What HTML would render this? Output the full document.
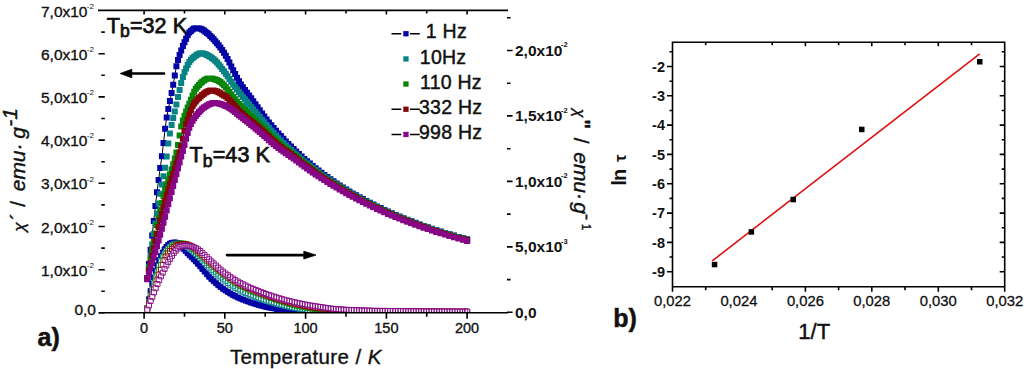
<!DOCTYPE html><html><head><meta charset="utf-8"><style>html,body{margin:0;padding:0;background:#fff;overflow:hidden}svg{display:block}text{font-family:"Liberation Sans", sans-serif}</style></head><body>
<svg width="1024" height="369" viewBox="0 0 1024 369">
<rect width="1024" height="369" fill="#fff"/>
<defs><clipPath id="pa"><rect x="98.5" y="10.4" width="409" height="402.4"/></clipPath><clipPath id="pb"><rect x="98.5" y="10.4" width="409" height="302.4"/></clipPath></defs>
<g clip-path="url(#pa)">
<polyline points="147.3,278.3 148.9,264.1 150.6,249.8 152.2,235.5 153.8,220.9 155.4,206.0 157.0,192.3 158.6,179.9 160.2,167.9 161.9,156.3 163.5,143.1 165.1,128.8 166.7,117.6 168.3,109.0 169.9,101.1 171.6,93.0 173.2,84.8 174.8,75.4 176.4,66.2 178.0,60.1 179.6,55.1 181.2,50.4 182.9,46.1 184.5,42.2 186.1,38.7 187.7,35.3 189.3,32.6 190.9,30.9 192.6,29.4 194.2,28.4 195.8,28.2 197.4,28.3 199.0,28.5 200.6,28.7 202.2,29.4 203.9,30.5 205.5,31.7 207.1,32.9 208.7,34.3 210.3,35.9 211.9,37.6 213.6,39.3 215.3,41.2 217.0,43.2 218.7,45.3 220.4,47.6 222.2,50.0 224.0,52.7 225.8,55.7 227.6,59.1 229.4,62.6 231.3,66.4 233.2,70.2 235.1,74.0 237.0,77.8 239.0,81.2 240.9,84.4 242.9,87.3 245.0,90.0 247.0,92.7 249.1,95.4 251.2,98.2 253.3,101.2 255.5,104.2 257.6,107.2 259.8,110.3 262.1,113.4 264.3,116.5 266.6,119.5 268.9,122.4 271.3,125.2 273.6,128.0 276.0,130.7 278.4,133.4 280.9,136.1 283.4,138.8 285.9,141.4 288.4,144.0 291.0,146.5 293.6,149.1 296.2,151.6 298.9,154.1 301.6,156.5 304.3,158.9 307.1,161.3 309.9,163.6 312.7,165.9 315.6,168.2 318.5,170.5 321.4,172.7 324.4,174.9 327.4,177.1 330.4,179.2 333.5,181.3 336.6,183.4 339.7,185.4 342.9,187.5 346.2,189.5 349.4,191.5 352.7,193.4 356.1,195.3 359.5,197.2 362.9,199.1 366.3,201.0 369.9,202.8 373.4,204.6 377.0,206.4 380.6,208.1 384.3,209.9 388.0,211.6 391.8,213.3 395.6,214.9 399.5,216.5 403.4,218.2 407.3,219.7 411.3,221.3 415.4,222.8 419.5,224.4 423.6,225.9 427.8,227.3 432.0,228.8 436.3,230.2 440.7,231.6 445.1,232.9 449.5,234.3 454.0,235.6 458.6,236.9 463.2,238.2 467.1,239.3" fill="none" stroke="#000" stroke-width="1"/>
<path d="M144.3 275.3h6.0v6.0h-6.0zM145.9 261.1h6.0v6.0h-6.0zM147.6 246.8h6.0v6.0h-6.0zM149.2 232.5h6.0v6.0h-6.0zM150.8 217.9h6.0v6.0h-6.0zM152.4 203.0h6.0v6.0h-6.0zM154.0 189.3h6.0v6.0h-6.0zM155.6 176.9h6.0v6.0h-6.0zM157.2 164.9h6.0v6.0h-6.0zM158.9 153.3h6.0v6.0h-6.0zM160.5 140.1h6.0v6.0h-6.0zM162.1 125.8h6.0v6.0h-6.0zM163.7 114.6h6.0v6.0h-6.0zM165.3 106.0h6.0v6.0h-6.0zM166.9 98.1h6.0v6.0h-6.0zM168.6 90.0h6.0v6.0h-6.0zM170.2 81.8h6.0v6.0h-6.0zM171.8 72.4h6.0v6.0h-6.0zM173.4 63.2h6.0v6.0h-6.0zM175.0 57.1h6.0v6.0h-6.0zM176.6 52.1h6.0v6.0h-6.0zM178.2 47.4h6.0v6.0h-6.0zM179.9 43.1h6.0v6.0h-6.0zM181.5 39.2h6.0v6.0h-6.0zM183.1 35.7h6.0v6.0h-6.0zM184.7 32.3h6.0v6.0h-6.0zM186.3 29.6h6.0v6.0h-6.0zM187.9 27.9h6.0v6.0h-6.0zM189.6 26.4h6.0v6.0h-6.0zM191.2 25.4h6.0v6.0h-6.0zM192.8 25.2h6.0v6.0h-6.0zM194.4 25.3h6.0v6.0h-6.0zM196.0 25.5h6.0v6.0h-6.0zM197.6 25.7h6.0v6.0h-6.0zM199.2 26.4h6.0v6.0h-6.0zM200.9 27.5h6.0v6.0h-6.0zM202.5 28.7h6.0v6.0h-6.0zM204.1 29.9h6.0v6.0h-6.0zM205.7 31.3h6.0v6.0h-6.0zM207.3 32.9h6.0v6.0h-6.0zM208.9 34.6h6.0v6.0h-6.0zM210.6 36.3h6.0v6.0h-6.0zM212.3 38.2h6.0v6.0h-6.0zM214.0 40.2h6.0v6.0h-6.0zM215.7 42.3h6.0v6.0h-6.0zM217.4 44.6h6.0v6.0h-6.0zM219.2 47.0h6.0v6.0h-6.0zM221.0 49.7h6.0v6.0h-6.0zM222.8 52.7h6.0v6.0h-6.0zM224.6 56.1h6.0v6.0h-6.0zM226.4 59.6h6.0v6.0h-6.0zM228.3 63.4h6.0v6.0h-6.0zM230.2 67.2h6.0v6.0h-6.0zM232.1 71.0h6.0v6.0h-6.0zM234.0 74.8h6.0v6.0h-6.0zM236.0 78.2h6.0v6.0h-6.0zM237.9 81.4h6.0v6.0h-6.0zM239.9 84.3h6.0v6.0h-6.0zM242.0 87.0h6.0v6.0h-6.0zM244.0 89.7h6.0v6.0h-6.0zM246.1 92.4h6.0v6.0h-6.0zM248.2 95.2h6.0v6.0h-6.0zM250.3 98.2h6.0v6.0h-6.0zM252.5 101.2h6.0v6.0h-6.0zM254.6 104.2h6.0v6.0h-6.0zM256.8 107.3h6.0v6.0h-6.0zM259.1 110.4h6.0v6.0h-6.0zM261.3 113.5h6.0v6.0h-6.0zM263.6 116.5h6.0v6.0h-6.0zM265.9 119.4h6.0v6.0h-6.0zM268.3 122.2h6.0v6.0h-6.0zM270.6 125.0h6.0v6.0h-6.0zM273.0 127.7h6.0v6.0h-6.0zM275.4 130.4h6.0v6.0h-6.0zM277.9 133.1h6.0v6.0h-6.0zM280.4 135.8h6.0v6.0h-6.0zM282.9 138.4h6.0v6.0h-6.0zM285.4 141.0h6.0v6.0h-6.0zM288.0 143.5h6.0v6.0h-6.0zM290.6 146.1h6.0v6.0h-6.0zM293.2 148.6h6.0v6.0h-6.0zM295.9 151.1h6.0v6.0h-6.0zM298.6 153.5h6.0v6.0h-6.0zM301.3 155.9h6.0v6.0h-6.0zM304.1 158.3h6.0v6.0h-6.0zM306.9 160.6h6.0v6.0h-6.0zM309.7 162.9h6.0v6.0h-6.0zM312.6 165.2h6.0v6.0h-6.0zM315.5 167.5h6.0v6.0h-6.0zM318.4 169.7h6.0v6.0h-6.0zM321.4 171.9h6.0v6.0h-6.0zM324.4 174.1h6.0v6.0h-6.0zM327.4 176.2h6.0v6.0h-6.0zM330.5 178.3h6.0v6.0h-6.0zM333.6 180.4h6.0v6.0h-6.0zM336.7 182.4h6.0v6.0h-6.0zM339.9 184.5h6.0v6.0h-6.0zM343.2 186.5h6.0v6.0h-6.0zM346.4 188.5h6.0v6.0h-6.0zM349.7 190.4h6.0v6.0h-6.0zM353.1 192.3h6.0v6.0h-6.0zM356.5 194.2h6.0v6.0h-6.0zM359.9 196.1h6.0v6.0h-6.0zM363.3 198.0h6.0v6.0h-6.0zM366.9 199.8h6.0v6.0h-6.0zM370.4 201.6h6.0v6.0h-6.0zM374.0 203.4h6.0v6.0h-6.0zM377.6 205.1h6.0v6.0h-6.0zM381.3 206.9h6.0v6.0h-6.0zM385.0 208.6h6.0v6.0h-6.0zM388.8 210.3h6.0v6.0h-6.0zM392.6 211.9h6.0v6.0h-6.0zM396.5 213.5h6.0v6.0h-6.0zM400.4 215.2h6.0v6.0h-6.0zM404.3 216.7h6.0v6.0h-6.0zM408.3 218.3h6.0v6.0h-6.0zM412.4 219.8h6.0v6.0h-6.0zM416.5 221.4h6.0v6.0h-6.0zM420.6 222.9h6.0v6.0h-6.0zM424.8 224.3h6.0v6.0h-6.0zM429.0 225.8h6.0v6.0h-6.0zM433.3 227.2h6.0v6.0h-6.0zM437.7 228.6h6.0v6.0h-6.0zM442.1 229.9h6.0v6.0h-6.0zM446.5 231.3h6.0v6.0h-6.0zM451.0 232.6h6.0v6.0h-6.0zM455.6 233.9h6.0v6.0h-6.0zM460.2 235.2h6.0v6.0h-6.0zM464.1 236.3h6.0v6.0h-6.0z" fill="#0404a6"/>
<path d="M144.3 275.3h6.0v6.0h-6.0zM145.9 263.8h6.0v6.0h-6.0zM147.6 252.5h6.0v6.0h-6.0zM149.2 241.6h6.0v6.0h-6.0zM150.8 230.9h6.0v6.0h-6.0zM152.4 220.6h6.0v6.0h-6.0zM154.0 210.4h6.0v6.0h-6.0zM155.6 200.4h6.0v6.0h-6.0zM157.2 190.7h6.0v6.0h-6.0zM158.9 181.6h6.0v6.0h-6.0zM160.5 173.3h6.0v6.0h-6.0zM162.1 164.8h6.0v6.0h-6.0zM163.7 153.5h6.0v6.0h-6.0zM165.3 140.6h6.0v6.0h-6.0zM166.9 130.5h6.0v6.0h-6.0zM168.6 122.0h6.0v6.0h-6.0zM170.2 115.1h6.0v6.0h-6.0zM171.8 108.5h6.0v6.0h-6.0zM173.4 101.4h6.0v6.0h-6.0zM175.0 94.1h6.0v6.0h-6.0zM176.6 86.9h6.0v6.0h-6.0zM178.2 80.1h6.0v6.0h-6.0zM179.9 74.1h6.0v6.0h-6.0zM181.5 69.2h6.0v6.0h-6.0zM183.1 65.4h6.0v6.0h-6.0zM184.7 62.0h6.0v6.0h-6.0zM186.3 59.1h6.0v6.0h-6.0zM187.9 56.7h6.0v6.0h-6.0zM189.6 55.0h6.0v6.0h-6.0zM191.2 53.7h6.0v6.0h-6.0zM192.8 52.5h6.0v6.0h-6.0zM194.4 51.5h6.0v6.0h-6.0zM196.0 50.7h6.0v6.0h-6.0zM197.6 50.3h6.0v6.0h-6.0zM199.2 50.3h6.0v6.0h-6.0zM200.9 50.7h6.0v6.0h-6.0zM202.5 51.3h6.0v6.0h-6.0zM204.1 52.1h6.0v6.0h-6.0zM205.7 52.9h6.0v6.0h-6.0zM207.3 53.8h6.0v6.0h-6.0zM208.9 54.9h6.0v6.0h-6.0zM210.6 56.2h6.0v6.0h-6.0zM212.3 57.8h6.0v6.0h-6.0zM214.0 59.6h6.0v6.0h-6.0zM215.7 61.5h6.0v6.0h-6.0zM217.4 63.6h6.0v6.0h-6.0zM219.2 65.9h6.0v6.0h-6.0zM221.0 68.3h6.0v6.0h-6.0zM222.8 70.8h6.0v6.0h-6.0zM224.6 73.3h6.0v6.0h-6.0zM226.4 76.0h6.0v6.0h-6.0zM228.3 78.7h6.0v6.0h-6.0zM230.2 81.4h6.0v6.0h-6.0zM232.1 84.0h6.0v6.0h-6.0zM234.0 86.6h6.0v6.0h-6.0zM236.0 89.2h6.0v6.0h-6.0zM237.9 91.6h6.0v6.0h-6.0zM239.9 94.0h6.0v6.0h-6.0zM242.0 96.4h6.0v6.0h-6.0zM244.0 98.9h6.0v6.0h-6.0zM246.1 101.4h6.0v6.0h-6.0zM248.2 103.9h6.0v6.0h-6.0zM250.3 106.4h6.0v6.0h-6.0zM252.5 109.0h6.0v6.0h-6.0zM254.6 111.5h6.0v6.0h-6.0zM256.8 114.1h6.0v6.0h-6.0zM259.1 116.7h6.0v6.0h-6.0zM261.3 119.3h6.0v6.0h-6.0zM263.6 122.0h6.0v6.0h-6.0zM265.9 124.7h6.0v6.0h-6.0zM268.3 127.4h6.0v6.0h-6.0zM270.6 130.0h6.0v6.0h-6.0zM273.0 132.6h6.0v6.0h-6.0zM275.4 135.2h6.0v6.0h-6.0zM277.9 137.6h6.0v6.0h-6.0zM280.4 140.0h6.0v6.0h-6.0zM282.9 142.4h6.0v6.0h-6.0zM285.4 144.7h6.0v6.0h-6.0zM288.0 146.9h6.0v6.0h-6.0zM290.6 149.2h6.0v6.0h-6.0zM293.2 151.5h6.0v6.0h-6.0zM295.9 153.8h6.0v6.0h-6.0zM298.6 156.1h6.0v6.0h-6.0zM301.3 158.4h6.0v6.0h-6.0zM304.1 160.6h6.0v6.0h-6.0zM306.9 162.8h6.0v6.0h-6.0zM309.7 165.0h6.0v6.0h-6.0zM312.6 167.1h6.0v6.0h-6.0zM315.5 169.3h6.0v6.0h-6.0zM318.4 171.4h6.0v6.0h-6.0zM321.4 173.5h6.0v6.0h-6.0zM324.4 175.5h6.0v6.0h-6.0zM327.4 177.6h6.0v6.0h-6.0zM330.5 179.6h6.0v6.0h-6.0zM333.6 181.6h6.0v6.0h-6.0zM336.7 183.6h6.0v6.0h-6.0zM339.9 185.6h6.0v6.0h-6.0zM343.2 187.5h6.0v6.0h-6.0zM346.4 189.4h6.0v6.0h-6.0zM349.7 191.3h6.0v6.0h-6.0zM353.1 193.2h6.0v6.0h-6.0zM356.5 195.0h6.0v6.0h-6.0zM359.9 196.9h6.0v6.0h-6.0zM363.3 198.7h6.0v6.0h-6.0zM366.9 200.5h6.0v6.0h-6.0zM370.4 202.2h6.0v6.0h-6.0zM374.0 204.0h6.0v6.0h-6.0zM377.6 205.7h6.0v6.0h-6.0zM381.3 207.4h6.0v6.0h-6.0zM385.0 209.1h6.0v6.0h-6.0zM388.8 210.7h6.0v6.0h-6.0zM392.6 212.4h6.0v6.0h-6.0zM396.5 214.0h6.0v6.0h-6.0zM400.4 215.6h6.0v6.0h-6.0zM404.3 217.1h6.0v6.0h-6.0zM408.3 218.7h6.0v6.0h-6.0zM412.4 220.2h6.0v6.0h-6.0zM416.5 221.7h6.0v6.0h-6.0zM420.6 223.2h6.0v6.0h-6.0zM424.8 224.6h6.0v6.0h-6.0zM429.0 226.1h6.0v6.0h-6.0zM433.3 227.5h6.0v6.0h-6.0zM437.7 228.9h6.0v6.0h-6.0zM442.1 230.2h6.0v6.0h-6.0zM446.5 231.6h6.0v6.0h-6.0zM451.0 232.9h6.0v6.0h-6.0zM455.6 234.2h6.0v6.0h-6.0zM460.2 235.5h6.0v6.0h-6.0zM464.1 236.5h6.0v6.0h-6.0z" fill="#078383"/>
<path d="M144.3 275.3h6.0v6.0h-6.0zM145.9 265.8h6.0v6.0h-6.0zM147.6 256.6h6.0v6.0h-6.0zM149.2 247.6h6.0v6.0h-6.0zM150.8 238.9h6.0v6.0h-6.0zM152.4 230.5h6.0v6.0h-6.0zM154.0 222.3h6.0v6.0h-6.0zM155.6 214.6h6.0v6.0h-6.0zM157.2 207.1h6.0v6.0h-6.0zM158.9 200.0h6.0v6.0h-6.0zM160.5 193.2h6.0v6.0h-6.0zM162.1 187.1h6.0v6.0h-6.0zM163.7 181.6h6.0v6.0h-6.0zM165.3 176.4h6.0v6.0h-6.0zM166.9 171.4h6.0v6.0h-6.0zM168.6 166.5h6.0v6.0h-6.0zM170.2 161.3h6.0v6.0h-6.0zM171.8 155.6h6.0v6.0h-6.0zM173.4 149.4h6.0v6.0h-6.0zM175.0 142.1h6.0v6.0h-6.0zM176.6 132.6h6.0v6.0h-6.0zM178.2 123.6h6.0v6.0h-6.0zM179.9 117.6h6.0v6.0h-6.0zM181.5 112.7h6.0v6.0h-6.0zM183.1 108.4h6.0v6.0h-6.0zM184.7 104.5h6.0v6.0h-6.0zM186.3 100.7h6.0v6.0h-6.0zM187.9 96.7h6.0v6.0h-6.0zM189.6 92.6h6.0v6.0h-6.0zM191.2 88.8h6.0v6.0h-6.0zM192.8 85.7h6.0v6.0h-6.0zM194.4 83.7h6.0v6.0h-6.0zM196.0 81.9h6.0v6.0h-6.0zM197.6 80.2h6.0v6.0h-6.0zM199.2 78.7h6.0v6.0h-6.0zM200.9 77.5h6.0v6.0h-6.0zM202.5 76.4h6.0v6.0h-6.0zM204.1 75.7h6.0v6.0h-6.0zM205.7 75.4h6.0v6.0h-6.0zM207.3 75.4h6.0v6.0h-6.0zM208.9 75.6h6.0v6.0h-6.0zM210.6 76.0h6.0v6.0h-6.0zM212.3 76.5h6.0v6.0h-6.0zM214.0 77.1h6.0v6.0h-6.0zM215.7 77.9h6.0v6.0h-6.0zM217.4 79.1h6.0v6.0h-6.0zM219.2 80.6h6.0v6.0h-6.0zM221.0 82.3h6.0v6.0h-6.0zM222.8 84.3h6.0v6.0h-6.0zM224.6 86.6h6.0v6.0h-6.0zM226.4 88.9h6.0v6.0h-6.0zM228.3 91.4h6.0v6.0h-6.0zM230.2 93.9h6.0v6.0h-6.0zM232.1 96.3h6.0v6.0h-6.0zM234.0 98.8h6.0v6.0h-6.0zM236.0 101.0h6.0v6.0h-6.0zM237.9 103.1h6.0v6.0h-6.0zM239.9 105.1h6.0v6.0h-6.0zM242.0 107.1h6.0v6.0h-6.0zM244.0 109.1h6.0v6.0h-6.0zM246.1 111.1h6.0v6.0h-6.0zM248.2 113.1h6.0v6.0h-6.0zM250.3 115.1h6.0v6.0h-6.0zM252.5 117.2h6.0v6.0h-6.0zM254.6 119.2h6.0v6.0h-6.0zM256.8 121.4h6.0v6.0h-6.0zM259.1 123.6h6.0v6.0h-6.0zM261.3 125.8h6.0v6.0h-6.0zM263.6 128.1h6.0v6.0h-6.0zM265.9 130.5h6.0v6.0h-6.0zM268.3 132.8h6.0v6.0h-6.0zM270.6 135.1h6.0v6.0h-6.0zM273.0 137.3h6.0v6.0h-6.0zM275.4 139.5h6.0v6.0h-6.0zM277.9 141.6h6.0v6.0h-6.0zM280.4 143.7h6.0v6.0h-6.0zM282.9 145.6h6.0v6.0h-6.0zM285.4 147.5h6.0v6.0h-6.0zM288.0 149.4h6.0v6.0h-6.0zM290.6 151.4h6.0v6.0h-6.0zM293.2 153.5h6.0v6.0h-6.0zM295.9 155.8h6.0v6.0h-6.0zM298.6 158.0h6.0v6.0h-6.0zM301.3 160.2h6.0v6.0h-6.0zM304.1 162.3h6.0v6.0h-6.0zM306.9 164.4h6.0v6.0h-6.0zM309.7 166.5h6.0v6.0h-6.0zM312.6 168.6h6.0v6.0h-6.0zM315.5 170.7h6.0v6.0h-6.0zM318.4 172.7h6.0v6.0h-6.0zM321.4 174.7h6.0v6.0h-6.0zM324.4 176.7h6.0v6.0h-6.0zM327.4 178.7h6.0v6.0h-6.0zM330.5 180.7h6.0v6.0h-6.0zM333.6 182.6h6.0v6.0h-6.0zM336.7 184.6h6.0v6.0h-6.0zM339.9 186.5h6.0v6.0h-6.0zM343.2 188.4h6.0v6.0h-6.0zM346.4 190.2h6.0v6.0h-6.0zM349.7 192.1h6.0v6.0h-6.0zM353.1 193.9h6.0v6.0h-6.0zM356.5 195.7h6.0v6.0h-6.0zM359.9 197.5h6.0v6.0h-6.0zM363.3 199.3h6.0v6.0h-6.0zM366.9 201.1h6.0v6.0h-6.0zM370.4 202.8h6.0v6.0h-6.0zM374.0 204.6h6.0v6.0h-6.0zM377.6 206.3h6.0v6.0h-6.0zM381.3 207.9h6.0v6.0h-6.0zM385.0 209.6h6.0v6.0h-6.0zM388.8 211.2h6.0v6.0h-6.0zM392.6 212.9h6.0v6.0h-6.0zM396.5 214.5h6.0v6.0h-6.0zM400.4 216.0h6.0v6.0h-6.0zM404.3 217.6h6.0v6.0h-6.0zM408.3 219.1h6.0v6.0h-6.0zM412.4 220.6h6.0v6.0h-6.0zM416.5 222.1h6.0v6.0h-6.0zM420.6 223.6h6.0v6.0h-6.0zM424.8 225.1h6.0v6.0h-6.0zM429.0 226.5h6.0v6.0h-6.0zM433.3 227.9h6.0v6.0h-6.0zM437.7 229.3h6.0v6.0h-6.0zM442.1 230.6h6.0v6.0h-6.0zM446.5 232.0h6.0v6.0h-6.0zM451.0 233.3h6.0v6.0h-6.0zM455.6 234.6h6.0v6.0h-6.0zM460.2 235.8h6.0v6.0h-6.0zM464.1 236.9h6.0v6.0h-6.0z" fill="#078507"/>
<polyline points="147.3,278.3 148.9,270.6 150.6,263.0 152.2,255.5 153.8,248.2 155.4,241.0 157.0,234.0 158.6,227.1 160.2,220.4 161.9,213.9 163.5,207.5 165.1,201.2 166.7,195.2 168.3,189.5 169.9,184.1 171.6,179.0 173.2,174.0 174.8,168.9 176.4,163.8 178.0,158.4 179.6,152.6 181.2,146.3 182.9,138.8 184.5,131.0 186.1,124.5 187.7,119.4 189.3,114.5 190.9,110.1 192.6,106.3 194.2,103.4 195.8,101.4 197.4,99.6 199.0,97.9 200.6,96.4 202.2,95.0 203.9,93.7 205.5,92.6 207.1,91.7 208.7,91.1 210.3,90.6 211.9,90.4 213.6,90.5 215.3,90.9 217.0,91.5 218.7,92.3 220.4,93.3 222.2,94.4 224.0,95.5 225.8,96.6 227.6,98.1 229.4,99.9 231.3,101.9 233.2,104.1 235.1,106.3 237.0,108.5 239.0,110.7 240.9,112.6 242.9,114.3 245.0,116.1 247.0,117.8 249.1,119.4 251.2,121.1 253.3,122.8 255.5,124.6 257.6,126.4 259.8,128.2 262.1,130.2 264.3,132.3 266.6,134.5 268.9,136.6 271.3,138.8 273.6,141.0 276.0,143.1 278.4,145.1 280.9,147.1 283.4,148.9 285.9,150.7 288.4,152.3 291.0,154.1 293.6,155.9 296.2,158.0 298.9,160.2 301.6,162.4 304.3,164.5 307.1,166.5 309.9,168.6 312.7,170.6 315.6,172.7 318.5,174.7 321.4,176.7 324.4,178.7 327.4,180.6 330.4,182.6 333.5,184.5 336.6,186.4 339.7,188.3 342.9,190.2 346.2,192.1 349.4,193.9 352.7,195.8 356.1,197.6 359.5,199.4 362.9,201.2 366.3,202.9 369.9,204.7 373.4,206.4 377.0,208.1 380.6,209.8 384.3,211.5 388.0,213.1 391.8,214.8 395.6,216.4 399.5,218.0 403.4,219.5 407.3,221.1 411.3,222.6 415.4,224.1 419.5,225.6 423.6,227.1 427.8,228.5 432.0,229.9 436.3,231.3 440.7,232.7 445.1,234.1 449.5,235.4 454.0,236.7 458.6,238.0 463.2,239.3 467.1,240.3" fill="none" stroke="#000" stroke-width="1"/>
<path d="M144.3 275.3h6.0v6.0h-6.0zM145.9 267.6h6.0v6.0h-6.0zM147.6 260.0h6.0v6.0h-6.0zM149.2 252.5h6.0v6.0h-6.0zM150.8 245.2h6.0v6.0h-6.0zM152.4 238.0h6.0v6.0h-6.0zM154.0 231.0h6.0v6.0h-6.0zM155.6 224.1h6.0v6.0h-6.0zM157.2 217.4h6.0v6.0h-6.0zM158.9 210.9h6.0v6.0h-6.0zM160.5 204.5h6.0v6.0h-6.0zM162.1 198.2h6.0v6.0h-6.0zM163.7 192.2h6.0v6.0h-6.0zM165.3 186.5h6.0v6.0h-6.0zM166.9 181.1h6.0v6.0h-6.0zM168.6 176.0h6.0v6.0h-6.0zM170.2 171.0h6.0v6.0h-6.0zM171.8 165.9h6.0v6.0h-6.0zM173.4 160.8h6.0v6.0h-6.0zM175.0 155.4h6.0v6.0h-6.0zM176.6 149.6h6.0v6.0h-6.0zM178.2 143.3h6.0v6.0h-6.0zM179.9 135.8h6.0v6.0h-6.0zM181.5 128.0h6.0v6.0h-6.0zM183.1 121.5h6.0v6.0h-6.0zM184.7 116.4h6.0v6.0h-6.0zM186.3 111.5h6.0v6.0h-6.0zM187.9 107.1h6.0v6.0h-6.0zM189.6 103.3h6.0v6.0h-6.0zM191.2 100.4h6.0v6.0h-6.0zM192.8 98.4h6.0v6.0h-6.0zM194.4 96.6h6.0v6.0h-6.0zM196.0 94.9h6.0v6.0h-6.0zM197.6 93.4h6.0v6.0h-6.0zM199.2 92.0h6.0v6.0h-6.0zM200.9 90.7h6.0v6.0h-6.0zM202.5 89.6h6.0v6.0h-6.0zM204.1 88.7h6.0v6.0h-6.0zM205.7 88.1h6.0v6.0h-6.0zM207.3 87.6h6.0v6.0h-6.0zM208.9 87.4h6.0v6.0h-6.0zM210.6 87.5h6.0v6.0h-6.0zM212.3 87.9h6.0v6.0h-6.0zM214.0 88.5h6.0v6.0h-6.0zM215.7 89.3h6.0v6.0h-6.0zM217.4 90.3h6.0v6.0h-6.0zM219.2 91.4h6.0v6.0h-6.0zM221.0 92.5h6.0v6.0h-6.0zM222.8 93.6h6.0v6.0h-6.0zM224.6 95.1h6.0v6.0h-6.0zM226.4 96.9h6.0v6.0h-6.0zM228.3 98.9h6.0v6.0h-6.0zM230.2 101.1h6.0v6.0h-6.0zM232.1 103.3h6.0v6.0h-6.0zM234.0 105.5h6.0v6.0h-6.0zM236.0 107.7h6.0v6.0h-6.0zM237.9 109.6h6.0v6.0h-6.0zM239.9 111.3h6.0v6.0h-6.0zM242.0 113.1h6.0v6.0h-6.0zM244.0 114.8h6.0v6.0h-6.0zM246.1 116.4h6.0v6.0h-6.0zM248.2 118.1h6.0v6.0h-6.0zM250.3 119.8h6.0v6.0h-6.0zM252.5 121.6h6.0v6.0h-6.0zM254.6 123.4h6.0v6.0h-6.0zM256.8 125.2h6.0v6.0h-6.0zM259.1 127.2h6.0v6.0h-6.0zM261.3 129.3h6.0v6.0h-6.0zM263.6 131.5h6.0v6.0h-6.0zM265.9 133.6h6.0v6.0h-6.0zM268.3 135.8h6.0v6.0h-6.0zM270.6 138.0h6.0v6.0h-6.0zM273.0 140.1h6.0v6.0h-6.0zM275.4 142.1h6.0v6.0h-6.0zM277.9 144.1h6.0v6.0h-6.0zM280.4 145.9h6.0v6.0h-6.0zM282.9 147.7h6.0v6.0h-6.0zM285.4 149.3h6.0v6.0h-6.0zM288.0 151.1h6.0v6.0h-6.0zM290.6 152.9h6.0v6.0h-6.0zM293.2 155.0h6.0v6.0h-6.0zM295.9 157.2h6.0v6.0h-6.0zM298.6 159.4h6.0v6.0h-6.0zM301.3 161.5h6.0v6.0h-6.0zM304.1 163.5h6.0v6.0h-6.0zM306.9 165.6h6.0v6.0h-6.0zM309.7 167.6h6.0v6.0h-6.0zM312.6 169.7h6.0v6.0h-6.0zM315.5 171.7h6.0v6.0h-6.0zM318.4 173.7h6.0v6.0h-6.0zM321.4 175.7h6.0v6.0h-6.0zM324.4 177.6h6.0v6.0h-6.0zM327.4 179.6h6.0v6.0h-6.0zM330.5 181.5h6.0v6.0h-6.0zM333.6 183.4h6.0v6.0h-6.0zM336.7 185.3h6.0v6.0h-6.0zM339.9 187.2h6.0v6.0h-6.0zM343.2 189.1h6.0v6.0h-6.0zM346.4 190.9h6.0v6.0h-6.0zM349.7 192.8h6.0v6.0h-6.0zM353.1 194.6h6.0v6.0h-6.0zM356.5 196.4h6.0v6.0h-6.0zM359.9 198.2h6.0v6.0h-6.0zM363.3 199.9h6.0v6.0h-6.0zM366.9 201.7h6.0v6.0h-6.0zM370.4 203.4h6.0v6.0h-6.0zM374.0 205.1h6.0v6.0h-6.0zM377.6 206.8h6.0v6.0h-6.0zM381.3 208.5h6.0v6.0h-6.0zM385.0 210.1h6.0v6.0h-6.0zM388.8 211.8h6.0v6.0h-6.0zM392.6 213.4h6.0v6.0h-6.0zM396.5 215.0h6.0v6.0h-6.0zM400.4 216.5h6.0v6.0h-6.0zM404.3 218.1h6.0v6.0h-6.0zM408.3 219.6h6.0v6.0h-6.0zM412.4 221.1h6.0v6.0h-6.0zM416.5 222.6h6.0v6.0h-6.0zM420.6 224.1h6.0v6.0h-6.0zM424.8 225.5h6.0v6.0h-6.0zM429.0 226.9h6.0v6.0h-6.0zM433.3 228.3h6.0v6.0h-6.0zM437.7 229.7h6.0v6.0h-6.0zM442.1 231.1h6.0v6.0h-6.0zM446.5 232.4h6.0v6.0h-6.0zM451.0 233.7h6.0v6.0h-6.0zM455.6 235.0h6.0v6.0h-6.0zM460.2 236.3h6.0v6.0h-6.0zM464.1 237.3h6.0v6.0h-6.0z" fill="#840606"/>
<polyline points="147.3,279.2 148.9,273.9 150.6,268.5 152.2,263.0 153.8,257.5 155.4,251.9 157.0,246.2 158.6,240.5 160.2,234.7 161.9,228.8 163.5,222.8 165.1,216.7 166.7,210.5 168.3,204.3 169.9,198.2 171.6,192.1 173.2,186.1 174.8,180.1 176.4,174.2 178.0,168.3 179.6,162.4 181.2,156.6 182.9,150.9 184.5,145.0 186.1,138.8 187.7,132.9 189.3,127.8 190.9,123.9 192.6,120.8 194.2,118.2 195.8,116.0 197.4,114.0 199.0,112.1 200.6,110.4 202.2,108.8 203.9,107.5 205.5,106.4 207.1,105.5 208.7,104.6 210.3,103.9 211.9,103.3 213.6,103.0 215.3,103.0 217.0,103.2 218.7,103.5 220.4,104.0 222.2,104.6 224.0,105.2 225.8,105.9 227.6,106.8 229.4,107.9 231.3,109.2 233.2,110.6 235.1,112.1 237.0,113.7 239.0,115.3 240.9,116.8 242.9,118.3 245.0,119.9 247.0,121.5 249.1,123.2 251.2,124.9 253.3,126.6 255.5,128.4 257.6,130.3 259.8,132.1 262.1,134.0 264.3,136.1 266.6,138.1 268.9,140.2 271.3,142.2 273.6,144.2 276.0,146.1 278.4,148.0 280.9,149.8 283.4,151.6 285.9,153.3 288.4,155.0 291.0,156.7 293.6,158.5 296.2,160.4 298.9,162.4 301.6,164.5 304.3,166.5 307.1,168.5 309.9,170.5 312.7,172.4 315.6,174.4 318.5,176.3 321.4,178.2 324.4,180.1 327.4,182.0 330.4,183.9 333.5,185.8 336.6,187.6 339.7,189.5 342.9,191.3 346.2,193.2 349.4,195.0 352.7,196.8 356.1,198.5 359.5,200.3 362.9,202.1 366.3,203.8 369.9,205.5 373.4,207.2 377.0,208.9 380.6,210.6 384.3,212.2 388.0,213.9 391.8,215.5 395.6,217.1 399.5,218.6 403.4,220.2 407.3,221.7 411.3,223.2 415.4,224.7 419.5,226.2 423.6,227.7 427.8,229.1 432.0,230.5 436.3,231.9 440.7,233.3 445.1,234.6 449.5,236.0 454.0,237.3 458.6,238.6 463.2,239.8 467.1,240.9" fill="none" stroke="#000" stroke-width="1"/>
<path d="M144.3 276.2h6.0v6.0h-6.0zM145.9 270.9h6.0v6.0h-6.0zM147.6 265.5h6.0v6.0h-6.0zM149.2 260.0h6.0v6.0h-6.0zM150.8 254.5h6.0v6.0h-6.0zM152.4 248.9h6.0v6.0h-6.0zM154.0 243.2h6.0v6.0h-6.0zM155.6 237.5h6.0v6.0h-6.0zM157.2 231.7h6.0v6.0h-6.0zM158.9 225.8h6.0v6.0h-6.0zM160.5 219.8h6.0v6.0h-6.0zM162.1 213.7h6.0v6.0h-6.0zM163.7 207.5h6.0v6.0h-6.0zM165.3 201.3h6.0v6.0h-6.0zM166.9 195.2h6.0v6.0h-6.0zM168.6 189.1h6.0v6.0h-6.0zM170.2 183.1h6.0v6.0h-6.0zM171.8 177.1h6.0v6.0h-6.0zM173.4 171.2h6.0v6.0h-6.0zM175.0 165.3h6.0v6.0h-6.0zM176.6 159.4h6.0v6.0h-6.0zM178.2 153.6h6.0v6.0h-6.0zM179.9 147.9h6.0v6.0h-6.0zM181.5 142.0h6.0v6.0h-6.0zM183.1 135.8h6.0v6.0h-6.0zM184.7 129.9h6.0v6.0h-6.0zM186.3 124.8h6.0v6.0h-6.0zM187.9 120.9h6.0v6.0h-6.0zM189.6 117.8h6.0v6.0h-6.0zM191.2 115.2h6.0v6.0h-6.0zM192.8 113.0h6.0v6.0h-6.0zM194.4 111.0h6.0v6.0h-6.0zM196.0 109.1h6.0v6.0h-6.0zM197.6 107.4h6.0v6.0h-6.0zM199.2 105.8h6.0v6.0h-6.0zM200.9 104.5h6.0v6.0h-6.0zM202.5 103.4h6.0v6.0h-6.0zM204.1 102.5h6.0v6.0h-6.0zM205.7 101.6h6.0v6.0h-6.0zM207.3 100.9h6.0v6.0h-6.0zM208.9 100.3h6.0v6.0h-6.0zM210.6 100.0h6.0v6.0h-6.0zM212.3 100.0h6.0v6.0h-6.0zM214.0 100.2h6.0v6.0h-6.0zM215.7 100.5h6.0v6.0h-6.0zM217.4 101.0h6.0v6.0h-6.0zM219.2 101.6h6.0v6.0h-6.0zM221.0 102.2h6.0v6.0h-6.0zM222.8 102.9h6.0v6.0h-6.0zM224.6 103.8h6.0v6.0h-6.0zM226.4 104.9h6.0v6.0h-6.0zM228.3 106.2h6.0v6.0h-6.0zM230.2 107.6h6.0v6.0h-6.0zM232.1 109.1h6.0v6.0h-6.0zM234.0 110.7h6.0v6.0h-6.0zM236.0 112.3h6.0v6.0h-6.0zM237.9 113.8h6.0v6.0h-6.0zM239.9 115.3h6.0v6.0h-6.0zM242.0 116.9h6.0v6.0h-6.0zM244.0 118.5h6.0v6.0h-6.0zM246.1 120.2h6.0v6.0h-6.0zM248.2 121.9h6.0v6.0h-6.0zM250.3 123.6h6.0v6.0h-6.0zM252.5 125.4h6.0v6.0h-6.0zM254.6 127.3h6.0v6.0h-6.0zM256.8 129.1h6.0v6.0h-6.0zM259.1 131.0h6.0v6.0h-6.0zM261.3 133.1h6.0v6.0h-6.0zM263.6 135.1h6.0v6.0h-6.0zM265.9 137.2h6.0v6.0h-6.0zM268.3 139.2h6.0v6.0h-6.0zM270.6 141.2h6.0v6.0h-6.0zM273.0 143.1h6.0v6.0h-6.0zM275.4 145.0h6.0v6.0h-6.0zM277.9 146.8h6.0v6.0h-6.0zM280.4 148.6h6.0v6.0h-6.0zM282.9 150.3h6.0v6.0h-6.0zM285.4 152.0h6.0v6.0h-6.0zM288.0 153.7h6.0v6.0h-6.0zM290.6 155.5h6.0v6.0h-6.0zM293.2 157.4h6.0v6.0h-6.0zM295.9 159.4h6.0v6.0h-6.0zM298.6 161.5h6.0v6.0h-6.0zM301.3 163.5h6.0v6.0h-6.0zM304.1 165.5h6.0v6.0h-6.0zM306.9 167.5h6.0v6.0h-6.0zM309.7 169.4h6.0v6.0h-6.0zM312.6 171.4h6.0v6.0h-6.0zM315.5 173.3h6.0v6.0h-6.0zM318.4 175.2h6.0v6.0h-6.0zM321.4 177.1h6.0v6.0h-6.0zM324.4 179.0h6.0v6.0h-6.0zM327.4 180.9h6.0v6.0h-6.0zM330.5 182.8h6.0v6.0h-6.0zM333.6 184.6h6.0v6.0h-6.0zM336.7 186.5h6.0v6.0h-6.0zM339.9 188.3h6.0v6.0h-6.0zM343.2 190.2h6.0v6.0h-6.0zM346.4 192.0h6.0v6.0h-6.0zM349.7 193.8h6.0v6.0h-6.0zM353.1 195.5h6.0v6.0h-6.0zM356.5 197.3h6.0v6.0h-6.0zM359.9 199.1h6.0v6.0h-6.0zM363.3 200.8h6.0v6.0h-6.0zM366.9 202.5h6.0v6.0h-6.0zM370.4 204.2h6.0v6.0h-6.0zM374.0 205.9h6.0v6.0h-6.0zM377.6 207.6h6.0v6.0h-6.0zM381.3 209.2h6.0v6.0h-6.0zM385.0 210.9h6.0v6.0h-6.0zM388.8 212.5h6.0v6.0h-6.0zM392.6 214.1h6.0v6.0h-6.0zM396.5 215.6h6.0v6.0h-6.0zM400.4 217.2h6.0v6.0h-6.0zM404.3 218.7h6.0v6.0h-6.0zM408.3 220.2h6.0v6.0h-6.0zM412.4 221.7h6.0v6.0h-6.0zM416.5 223.2h6.0v6.0h-6.0zM420.6 224.7h6.0v6.0h-6.0zM424.8 226.1h6.0v6.0h-6.0zM429.0 227.5h6.0v6.0h-6.0zM433.3 228.9h6.0v6.0h-6.0zM437.7 230.3h6.0v6.0h-6.0zM442.1 231.6h6.0v6.0h-6.0zM446.5 233.0h6.0v6.0h-6.0zM451.0 234.3h6.0v6.0h-6.0zM455.6 235.6h6.0v6.0h-6.0zM460.2 236.8h6.0v6.0h-6.0zM464.1 237.9h6.0v6.0h-6.0z" fill="#860686"/>
</g><g clip-path="url(#pb)">
<polyline points="147.3,308.4 149.0,299.2 150.6,291.0 152.3,283.9 154.0,277.4 155.7,270.8 157.5,265.2 159.2,260.3 161.0,256.2 162.8,252.5 164.6,249.3 166.4,247.0 168.2,245.0 170.1,243.5 172.0,242.9 173.8,242.6 175.8,242.5 177.7,243.3 179.6,244.9 181.6,246.6 183.6,248.8 185.6,251.1 187.6,253.2 189.7,255.3 191.8,257.3 193.9,259.4 196.0,261.5 198.1,263.9 200.3,266.4 202.4,269.0 204.6,271.6 206.9,274.2 209.1,276.7 211.4,279.0 213.6,281.2 216.0,283.2 218.3,285.2 220.6,287.0 223.0,288.8 225.4,290.4 227.9,292.0 230.3,293.5 232.8,294.9 235.3,296.2 237.8,297.5 240.4,298.6 242.9,299.6 245.5,300.6 248.1,301.5 250.7,302.5 253.3,303.3 255.9,304.2 258.5,304.9 261.0,305.6 263.6,306.3 266.2,306.9 268.8,307.5 271.4,308.0 274.0,308.4 276.5,308.9 279.1,309.3 281.7,309.7 284.3,310.0 286.9,310.3 289.5,310.5 292.0,310.6 294.6,310.8 297.2,311.0 299.8,311.1 302.4,311.2 305.0,311.4 307.5,311.5 310.1,311.6 312.7,311.6 315.3,311.7 317.9,311.8 320.5,311.8 323.1,311.8 325.6,311.8 328.2,311.8 330.8,311.9 333.4,311.9 336.0,311.9 338.6,311.9 341.1,311.9 343.7,311.9 346.3,311.9 348.9,312.0 351.5,312.0 354.1,312.0 356.6,312.0 359.2,312.0 361.8,312.0 364.4,312.0 367.0,312.0 369.6,312.0 372.1,312.0 374.7,312.0 377.3,312.0 379.9,312.0 382.5,312.0 385.1,312.0 387.7,312.0 390.2,312.0 392.8,312.0 395.4,312.0 398.0,312.0 400.6,312.0 403.2,312.0 405.7,312.0 408.3,312.0 410.9,312.0 413.5,312.0 416.1,312.0 418.7,312.0 421.2,312.0 423.8,312.0 426.4,312.0 429.0,312.0 431.6,312.0 434.2,312.0 436.7,312.0 439.3,312.0 441.9,312.0 444.5,312.0 447.1,312.0 449.7,312.0 452.3,312.0 454.8,312.0 457.4,312.0 460.0,312.0 462.6,312.0 465.2,312.0 467.1,312.0" fill="none" stroke="#000" stroke-width="0.8"/>
<path d="M144.8 305.9h5.0v5.0h-5.0zM146.5 296.7h5.0v5.0h-5.0zM148.1 288.5h5.0v5.0h-5.0zM149.8 281.4h5.0v5.0h-5.0zM151.5 274.9h5.0v5.0h-5.0zM153.2 268.3h5.0v5.0h-5.0zM155.0 262.7h5.0v5.0h-5.0zM156.7 257.8h5.0v5.0h-5.0zM158.5 253.7h5.0v5.0h-5.0zM160.3 250.0h5.0v5.0h-5.0zM162.1 246.8h5.0v5.0h-5.0zM163.9 244.5h5.0v5.0h-5.0zM165.7 242.5h5.0v5.0h-5.0zM167.6 241.0h5.0v5.0h-5.0zM169.5 240.4h5.0v5.0h-5.0zM171.3 240.1h5.0v5.0h-5.0zM173.3 240.0h5.0v5.0h-5.0zM175.2 240.8h5.0v5.0h-5.0zM177.1 242.4h5.0v5.0h-5.0zM179.1 244.1h5.0v5.0h-5.0zM181.1 246.3h5.0v5.0h-5.0zM183.1 248.6h5.0v5.0h-5.0zM185.1 250.7h5.0v5.0h-5.0zM187.2 252.8h5.0v5.0h-5.0zM189.3 254.8h5.0v5.0h-5.0zM191.4 256.9h5.0v5.0h-5.0zM193.5 259.0h5.0v5.0h-5.0zM195.6 261.4h5.0v5.0h-5.0zM197.8 263.9h5.0v5.0h-5.0zM199.9 266.5h5.0v5.0h-5.0zM202.1 269.1h5.0v5.0h-5.0zM204.4 271.7h5.0v5.0h-5.0zM206.6 274.2h5.0v5.0h-5.0zM208.9 276.5h5.0v5.0h-5.0zM211.1 278.7h5.0v5.0h-5.0zM213.5 280.7h5.0v5.0h-5.0zM215.8 282.7h5.0v5.0h-5.0zM218.1 284.5h5.0v5.0h-5.0zM220.5 286.3h5.0v5.0h-5.0zM222.9 287.9h5.0v5.0h-5.0zM225.4 289.5h5.0v5.0h-5.0zM227.8 291.0h5.0v5.0h-5.0zM230.3 292.4h5.0v5.0h-5.0zM232.8 293.7h5.0v5.0h-5.0zM235.3 295.0h5.0v5.0h-5.0zM237.9 296.1h5.0v5.0h-5.0zM240.4 297.1h5.0v5.0h-5.0zM243.0 298.1h5.0v5.0h-5.0zM245.6 299.0h5.0v5.0h-5.0zM248.2 300.0h5.0v5.0h-5.0zM250.8 300.8h5.0v5.0h-5.0zM253.4 301.7h5.0v5.0h-5.0zM256.0 302.4h5.0v5.0h-5.0zM258.5 303.1h5.0v5.0h-5.0zM261.1 303.8h5.0v5.0h-5.0zM263.7 304.4h5.0v5.0h-5.0zM266.3 305.0h5.0v5.0h-5.0zM268.9 305.5h5.0v5.0h-5.0zM271.5 305.9h5.0v5.0h-5.0zM274.0 306.4h5.0v5.0h-5.0zM276.6 306.8h5.0v5.0h-5.0zM279.2 307.2h5.0v5.0h-5.0zM281.8 307.5h5.0v5.0h-5.0zM284.4 307.8h5.0v5.0h-5.0zM287.0 308.0h5.0v5.0h-5.0zM289.5 308.1h5.0v5.0h-5.0zM292.1 308.3h5.0v5.0h-5.0zM294.7 308.5h5.0v5.0h-5.0zM297.3 308.6h5.0v5.0h-5.0zM299.9 308.7h5.0v5.0h-5.0zM302.5 308.9h5.0v5.0h-5.0zM305.0 309.0h5.0v5.0h-5.0zM307.6 309.1h5.0v5.0h-5.0zM310.2 309.1h5.0v5.0h-5.0zM312.8 309.2h5.0v5.0h-5.0zM315.4 309.3h5.0v5.0h-5.0zM318.0 309.3h5.0v5.0h-5.0zM320.6 309.3h5.0v5.0h-5.0zM323.1 309.3h5.0v5.0h-5.0zM325.7 309.3h5.0v5.0h-5.0zM328.3 309.4h5.0v5.0h-5.0zM330.9 309.4h5.0v5.0h-5.0zM333.5 309.4h5.0v5.0h-5.0zM336.1 309.4h5.0v5.0h-5.0zM338.6 309.4h5.0v5.0h-5.0zM341.2 309.4h5.0v5.0h-5.0zM343.8 309.4h5.0v5.0h-5.0zM346.4 309.5h5.0v5.0h-5.0zM349.0 309.5h5.0v5.0h-5.0zM351.6 309.5h5.0v5.0h-5.0zM354.1 309.5h5.0v5.0h-5.0zM356.7 309.5h5.0v5.0h-5.0zM359.3 309.5h5.0v5.0h-5.0zM361.9 309.5h5.0v5.0h-5.0zM364.5 309.5h5.0v5.0h-5.0zM367.1 309.5h5.0v5.0h-5.0zM369.6 309.5h5.0v5.0h-5.0zM372.2 309.5h5.0v5.0h-5.0zM374.8 309.5h5.0v5.0h-5.0zM377.4 309.5h5.0v5.0h-5.0zM380.0 309.5h5.0v5.0h-5.0zM382.6 309.5h5.0v5.0h-5.0zM385.2 309.5h5.0v5.0h-5.0zM387.7 309.5h5.0v5.0h-5.0zM390.3 309.5h5.0v5.0h-5.0zM392.9 309.5h5.0v5.0h-5.0zM395.5 309.5h5.0v5.0h-5.0zM398.1 309.5h5.0v5.0h-5.0zM400.7 309.5h5.0v5.0h-5.0zM403.2 309.5h5.0v5.0h-5.0zM405.8 309.5h5.0v5.0h-5.0zM408.4 309.5h5.0v5.0h-5.0zM411.0 309.5h5.0v5.0h-5.0zM413.6 309.5h5.0v5.0h-5.0zM416.2 309.5h5.0v5.0h-5.0zM418.7 309.5h5.0v5.0h-5.0zM421.3 309.5h5.0v5.0h-5.0zM423.9 309.5h5.0v5.0h-5.0zM426.5 309.5h5.0v5.0h-5.0zM429.1 309.5h5.0v5.0h-5.0zM431.7 309.5h5.0v5.0h-5.0zM434.2 309.5h5.0v5.0h-5.0zM436.8 309.5h5.0v5.0h-5.0zM439.4 309.5h5.0v5.0h-5.0zM442.0 309.5h5.0v5.0h-5.0zM444.6 309.5h5.0v5.0h-5.0zM447.2 309.5h5.0v5.0h-5.0zM449.8 309.5h5.0v5.0h-5.0zM452.3 309.5h5.0v5.0h-5.0zM454.9 309.5h5.0v5.0h-5.0zM457.5 309.5h5.0v5.0h-5.0zM460.1 309.5h5.0v5.0h-5.0zM462.7 309.5h5.0v5.0h-5.0zM464.6 309.5h5.0v5.0h-5.0z" fill="#0404a6" stroke="#0404a6" stroke-width="0.9"/>
<path d="M144.8 305.9h5.0v5.0h-5.0zM146.5 299.5h5.0v5.0h-5.0zM148.1 293.2h5.0v5.0h-5.0zM149.8 287.0h5.0v5.0h-5.0zM151.5 280.9h5.0v5.0h-5.0zM153.2 274.8h5.0v5.0h-5.0zM155.0 269.1h5.0v5.0h-5.0zM156.7 263.4h5.0v5.0h-5.0zM158.5 258.2h5.0v5.0h-5.0zM160.3 254.3h5.0v5.0h-5.0zM162.1 251.0h5.0v5.0h-5.0zM163.9 248.3h5.0v5.0h-5.0zM165.7 246.2h5.0v5.0h-5.0zM167.6 244.3h5.0v5.0h-5.0zM169.5 242.7h5.0v5.0h-5.0zM171.3 241.8h5.0v5.0h-5.0zM173.3 241.4h5.0v5.0h-5.0zM175.2 241.1h5.0v5.0h-5.0zM177.1 241.1h5.0v5.0h-5.0zM179.1 241.7h5.0v5.0h-5.0zM181.1 242.6h5.0v5.0h-5.0zM183.1 243.6h5.0v5.0h-5.0zM185.1 244.8h5.0v5.0h-5.0zM187.2 246.3h5.0v5.0h-5.0zM189.3 248.0h5.0v5.0h-5.0zM191.4 249.8h5.0v5.0h-5.0zM193.5 251.6h5.0v5.0h-5.0zM195.6 253.5h5.0v5.0h-5.0zM197.8 255.7h5.0v5.0h-5.0zM199.9 258.0h5.0v5.0h-5.0zM202.1 260.4h5.0v5.0h-5.0zM204.4 262.8h5.0v5.0h-5.0zM206.6 265.1h5.0v5.0h-5.0zM208.9 267.3h5.0v5.0h-5.0zM211.1 269.2h5.0v5.0h-5.0zM213.5 271.2h5.0v5.0h-5.0zM215.8 273.1h5.0v5.0h-5.0zM218.1 275.0h5.0v5.0h-5.0zM220.5 276.9h5.0v5.0h-5.0zM222.9 278.7h5.0v5.0h-5.0zM225.4 280.5h5.0v5.0h-5.0zM227.8 282.2h5.0v5.0h-5.0zM230.3 283.8h5.0v5.0h-5.0zM232.8 285.4h5.0v5.0h-5.0zM235.3 286.8h5.0v5.0h-5.0zM237.9 288.1h5.0v5.0h-5.0zM240.4 289.4h5.0v5.0h-5.0zM243.0 290.5h5.0v5.0h-5.0zM245.6 291.7h5.0v5.0h-5.0zM248.2 292.7h5.0v5.0h-5.0zM250.8 293.7h5.0v5.0h-5.0zM253.4 294.7h5.0v5.0h-5.0zM256.0 295.6h5.0v5.0h-5.0zM258.5 296.5h5.0v5.0h-5.0zM261.1 297.4h5.0v5.0h-5.0zM263.7 298.2h5.0v5.0h-5.0zM266.3 299.0h5.0v5.0h-5.0zM268.9 299.7h5.0v5.0h-5.0zM271.5 300.4h5.0v5.0h-5.0zM274.0 301.2h5.0v5.0h-5.0zM276.6 301.9h5.0v5.0h-5.0zM279.2 302.5h5.0v5.0h-5.0zM281.8 303.2h5.0v5.0h-5.0zM284.4 303.8h5.0v5.0h-5.0zM287.0 304.3h5.0v5.0h-5.0zM289.5 304.9h5.0v5.0h-5.0zM292.1 305.4h5.0v5.0h-5.0zM294.7 305.8h5.0v5.0h-5.0zM297.3 306.3h5.0v5.0h-5.0zM299.9 306.7h5.0v5.0h-5.0zM302.5 307.1h5.0v5.0h-5.0zM305.0 307.5h5.0v5.0h-5.0zM307.6 307.9h5.0v5.0h-5.0zM310.2 308.2h5.0v5.0h-5.0zM312.8 308.5h5.0v5.0h-5.0zM315.4 308.7h5.0v5.0h-5.0zM318.0 308.8h5.0v5.0h-5.0zM320.6 308.8h5.0v5.0h-5.0zM323.1 308.9h5.0v5.0h-5.0zM325.7 308.9h5.0v5.0h-5.0zM328.3 309.0h5.0v5.0h-5.0zM330.9 309.0h5.0v5.0h-5.0zM333.5 309.0h5.0v5.0h-5.0zM336.1 309.1h5.0v5.0h-5.0zM338.6 309.1h5.0v5.0h-5.0zM341.2 309.1h5.0v5.0h-5.0zM343.8 309.2h5.0v5.0h-5.0zM346.4 309.2h5.0v5.0h-5.0zM349.0 309.2h5.0v5.0h-5.0zM351.6 309.2h5.0v5.0h-5.0zM354.1 309.3h5.0v5.0h-5.0zM356.7 309.3h5.0v5.0h-5.0zM359.3 309.3h5.0v5.0h-5.0zM361.9 309.3h5.0v5.0h-5.0zM364.5 309.3h5.0v5.0h-5.0zM367.1 309.3h5.0v5.0h-5.0zM369.6 309.4h5.0v5.0h-5.0zM372.2 309.4h5.0v5.0h-5.0zM374.8 309.4h5.0v5.0h-5.0zM377.4 309.4h5.0v5.0h-5.0zM380.0 309.4h5.0v5.0h-5.0zM382.6 309.4h5.0v5.0h-5.0zM385.2 309.4h5.0v5.0h-5.0zM387.7 309.4h5.0v5.0h-5.0zM390.3 309.4h5.0v5.0h-5.0zM392.9 309.4h5.0v5.0h-5.0zM395.5 309.4h5.0v5.0h-5.0zM398.1 309.4h5.0v5.0h-5.0zM400.7 309.5h5.0v5.0h-5.0zM403.2 309.5h5.0v5.0h-5.0zM405.8 309.5h5.0v5.0h-5.0zM408.4 309.5h5.0v5.0h-5.0zM411.0 309.5h5.0v5.0h-5.0zM413.6 309.5h5.0v5.0h-5.0zM416.2 309.5h5.0v5.0h-5.0zM418.7 309.5h5.0v5.0h-5.0zM421.3 309.5h5.0v5.0h-5.0zM423.9 309.5h5.0v5.0h-5.0zM426.5 309.5h5.0v5.0h-5.0zM429.1 309.5h5.0v5.0h-5.0zM431.7 309.5h5.0v5.0h-5.0zM434.2 309.5h5.0v5.0h-5.0zM436.8 309.5h5.0v5.0h-5.0zM439.4 309.5h5.0v5.0h-5.0zM442.0 309.5h5.0v5.0h-5.0zM444.6 309.5h5.0v5.0h-5.0zM447.2 309.5h5.0v5.0h-5.0zM449.8 309.5h5.0v5.0h-5.0zM452.3 309.5h5.0v5.0h-5.0zM454.9 309.5h5.0v5.0h-5.0zM457.5 309.5h5.0v5.0h-5.0zM460.1 309.5h5.0v5.0h-5.0zM462.7 309.5h5.0v5.0h-5.0zM464.6 309.5h5.0v5.0h-5.0z" fill="#fff" stroke="#078383" stroke-width="0.9"/>
<path d="M144.8 305.9h5.0v5.0h-5.0zM146.5 300.5h5.0v5.0h-5.0zM148.1 295.1h5.0v5.0h-5.0zM149.8 289.7h5.0v5.0h-5.0zM151.5 284.1h5.0v5.0h-5.0zM153.2 278.4h5.0v5.0h-5.0zM155.0 272.7h5.0v5.0h-5.0zM156.7 267.6h5.0v5.0h-5.0zM158.5 262.6h5.0v5.0h-5.0zM160.3 258.1h5.0v5.0h-5.0zM162.1 254.3h5.0v5.0h-5.0zM163.9 251.1h5.0v5.0h-5.0zM165.7 248.3h5.0v5.0h-5.0zM167.6 246.2h5.0v5.0h-5.0zM169.5 244.4h5.0v5.0h-5.0zM171.3 242.9h5.0v5.0h-5.0zM173.3 241.9h5.0v5.0h-5.0zM175.2 241.5h5.0v5.0h-5.0zM177.1 241.1h5.0v5.0h-5.0zM179.1 241.0h5.0v5.0h-5.0zM181.1 241.1h5.0v5.0h-5.0zM183.1 241.6h5.0v5.0h-5.0zM185.1 242.4h5.0v5.0h-5.0zM187.2 243.4h5.0v5.0h-5.0zM189.3 244.8h5.0v5.0h-5.0zM191.4 246.6h5.0v5.0h-5.0zM193.5 248.3h5.0v5.0h-5.0zM195.6 250.1h5.0v5.0h-5.0zM197.8 252.0h5.0v5.0h-5.0zM199.9 254.0h5.0v5.0h-5.0zM202.1 256.1h5.0v5.0h-5.0zM204.4 258.2h5.0v5.0h-5.0zM206.6 260.2h5.0v5.0h-5.0zM208.9 262.2h5.0v5.0h-5.0zM211.1 264.1h5.0v5.0h-5.0zM213.5 265.9h5.0v5.0h-5.0zM215.8 267.8h5.0v5.0h-5.0zM218.1 269.7h5.0v5.0h-5.0zM220.5 271.6h5.0v5.0h-5.0zM222.9 273.4h5.0v5.0h-5.0zM225.4 275.2h5.0v5.0h-5.0zM227.8 277.0h5.0v5.0h-5.0zM230.3 278.7h5.0v5.0h-5.0zM232.8 280.3h5.0v5.0h-5.0zM235.3 281.8h5.0v5.0h-5.0zM237.9 283.1h5.0v5.0h-5.0zM240.4 284.4h5.0v5.0h-5.0zM243.0 285.7h5.0v5.0h-5.0zM245.6 286.8h5.0v5.0h-5.0zM248.2 288.0h5.0v5.0h-5.0zM250.8 289.0h5.0v5.0h-5.0zM253.4 290.0h5.0v5.0h-5.0zM256.0 291.0h5.0v5.0h-5.0zM258.5 292.0h5.0v5.0h-5.0zM261.1 292.9h5.0v5.0h-5.0zM263.7 293.8h5.0v5.0h-5.0zM266.3 294.7h5.0v5.0h-5.0zM268.9 295.6h5.0v5.0h-5.0zM271.5 296.5h5.0v5.0h-5.0zM274.0 297.3h5.0v5.0h-5.0zM276.6 298.2h5.0v5.0h-5.0zM279.2 299.0h5.0v5.0h-5.0zM281.8 299.8h5.0v5.0h-5.0zM284.4 300.6h5.0v5.0h-5.0zM287.0 301.3h5.0v5.0h-5.0zM289.5 302.0h5.0v5.0h-5.0zM292.1 302.6h5.0v5.0h-5.0zM294.7 303.2h5.0v5.0h-5.0zM297.3 303.7h5.0v5.0h-5.0zM299.9 304.3h5.0v5.0h-5.0zM302.5 304.8h5.0v5.0h-5.0zM305.0 305.3h5.0v5.0h-5.0zM307.6 305.7h5.0v5.0h-5.0zM310.2 306.2h5.0v5.0h-5.0zM312.8 306.5h5.0v5.0h-5.0zM315.4 306.8h5.0v5.0h-5.0zM318.0 306.9h5.0v5.0h-5.0zM320.6 307.1h5.0v5.0h-5.0zM323.1 307.2h5.0v5.0h-5.0zM325.7 307.4h5.0v5.0h-5.0zM328.3 307.5h5.0v5.0h-5.0zM330.9 307.6h5.0v5.0h-5.0zM333.5 307.7h5.0v5.0h-5.0zM336.1 307.9h5.0v5.0h-5.0zM338.6 308.0h5.0v5.0h-5.0zM341.2 308.1h5.0v5.0h-5.0zM343.8 308.2h5.0v5.0h-5.0zM346.4 308.3h5.0v5.0h-5.0zM349.0 308.3h5.0v5.0h-5.0zM351.6 308.4h5.0v5.0h-5.0zM354.1 308.5h5.0v5.0h-5.0zM356.7 308.6h5.0v5.0h-5.0zM359.3 308.6h5.0v5.0h-5.0zM361.9 308.7h5.0v5.0h-5.0zM364.5 308.7h5.0v5.0h-5.0zM367.1 308.8h5.0v5.0h-5.0zM369.6 308.8h5.0v5.0h-5.0zM372.2 308.9h5.0v5.0h-5.0zM374.8 308.9h5.0v5.0h-5.0zM377.4 308.9h5.0v5.0h-5.0zM380.0 309.0h5.0v5.0h-5.0zM382.6 309.0h5.0v5.0h-5.0zM385.2 309.0h5.0v5.0h-5.0zM387.7 309.0h5.0v5.0h-5.0zM390.3 309.1h5.0v5.0h-5.0zM392.9 309.1h5.0v5.0h-5.0zM395.5 309.1h5.0v5.0h-5.0zM398.1 309.1h5.0v5.0h-5.0zM400.7 309.1h5.0v5.0h-5.0zM403.2 309.2h5.0v5.0h-5.0zM405.8 309.2h5.0v5.0h-5.0zM408.4 309.2h5.0v5.0h-5.0zM411.0 309.2h5.0v5.0h-5.0zM413.6 309.2h5.0v5.0h-5.0zM416.2 309.3h5.0v5.0h-5.0zM418.7 309.3h5.0v5.0h-5.0zM421.3 309.3h5.0v5.0h-5.0zM423.9 309.3h5.0v5.0h-5.0zM426.5 309.3h5.0v5.0h-5.0zM429.1 309.3h5.0v5.0h-5.0zM431.7 309.3h5.0v5.0h-5.0zM434.2 309.3h5.0v5.0h-5.0zM436.8 309.4h5.0v5.0h-5.0zM439.4 309.4h5.0v5.0h-5.0zM442.0 309.4h5.0v5.0h-5.0zM444.6 309.4h5.0v5.0h-5.0zM447.2 309.4h5.0v5.0h-5.0zM449.8 309.4h5.0v5.0h-5.0zM452.3 309.4h5.0v5.0h-5.0zM454.9 309.4h5.0v5.0h-5.0zM457.5 309.4h5.0v5.0h-5.0zM460.1 309.4h5.0v5.0h-5.0zM462.7 309.4h5.0v5.0h-5.0zM464.6 309.4h5.0v5.0h-5.0z" fill="#fff" stroke="#078507" stroke-width="0.9"/>
<polyline points="147.3,308.4 149.0,303.7 150.6,299.0 152.3,294.2 154.0,289.4 155.7,284.5 157.5,279.5 159.2,274.5 161.0,269.7 162.8,264.8 164.6,260.1 166.4,256.5 168.2,253.5 170.1,251.0 172.0,249.1 173.8,247.4 175.8,245.9 177.7,245.0 179.6,244.5 181.6,244.2 183.6,244.0 185.6,244.1 187.6,244.6 189.7,245.4 191.8,246.4 193.9,247.9 196.0,249.5 198.1,251.2 200.3,253.1 202.4,255.1 204.6,257.2 206.9,259.4 209.1,261.4 211.4,263.4 213.6,265.3 216.0,267.1 218.3,269.0 220.6,270.8 223.0,272.7 225.4,274.5 227.9,276.3 230.3,278.0 232.8,279.7 235.3,281.3 237.8,282.8 240.4,284.2 242.9,285.5 245.5,286.8 248.1,288.0 250.7,289.2 253.3,290.3 255.9,291.4 258.5,292.4 261.0,293.4 263.6,294.3 266.2,295.3 268.8,296.2 271.4,297.0 274.0,297.9 276.5,298.7 279.1,299.5 281.7,300.3 284.3,301.1 286.9,301.8 289.5,302.5 292.0,303.2 294.6,303.8 297.2,304.4 299.8,304.9 302.4,305.5 305.0,306.0 307.5,306.6 310.1,307.1 312.7,307.5 315.3,307.9 317.9,308.2 320.5,308.4 323.1,308.6 325.6,308.8 328.2,309.0 330.8,309.1 333.4,309.3 336.0,309.5 338.6,309.6 341.1,309.8 343.7,309.9 346.3,310.0 348.9,310.2 351.5,310.3 354.1,310.4 356.6,310.5 359.2,310.6 361.8,310.7 364.4,310.8 367.0,310.9 369.6,310.9 372.1,311.0 374.7,311.1 377.3,311.1 379.9,311.2 382.5,311.2 385.1,311.2 387.7,311.3 390.2,311.3 392.8,311.3 395.4,311.4 398.0,311.4 400.6,311.4 403.2,311.4 405.7,311.5 408.3,311.5 410.9,311.5 413.5,311.5 416.1,311.6 418.7,311.6 421.2,311.6 423.8,311.6 426.4,311.6 429.0,311.6 431.6,311.7 434.2,311.7 436.7,311.7 439.3,311.7 441.9,311.7 444.5,311.7 447.1,311.7 449.7,311.7 452.3,311.8 454.8,311.8 457.4,311.8 460.0,311.8 462.6,311.8 465.2,311.8 467.1,311.8" fill="none" stroke="#000" stroke-width="0.8"/>
<path d="M144.8 305.9h5.0v5.0h-5.0zM146.5 301.2h5.0v5.0h-5.0zM148.1 296.5h5.0v5.0h-5.0zM149.8 291.7h5.0v5.0h-5.0zM151.5 286.9h5.0v5.0h-5.0zM153.2 282.0h5.0v5.0h-5.0zM155.0 277.0h5.0v5.0h-5.0zM156.7 272.0h5.0v5.0h-5.0zM158.5 267.2h5.0v5.0h-5.0zM160.3 262.3h5.0v5.0h-5.0zM162.1 257.6h5.0v5.0h-5.0zM163.9 254.0h5.0v5.0h-5.0zM165.7 251.0h5.0v5.0h-5.0zM167.6 248.5h5.0v5.0h-5.0zM169.5 246.6h5.0v5.0h-5.0zM171.3 244.9h5.0v5.0h-5.0zM173.3 243.4h5.0v5.0h-5.0zM175.2 242.5h5.0v5.0h-5.0zM177.1 242.0h5.0v5.0h-5.0zM179.1 241.7h5.0v5.0h-5.0zM181.1 241.5h5.0v5.0h-5.0zM183.1 241.6h5.0v5.0h-5.0zM185.1 242.1h5.0v5.0h-5.0zM187.2 242.9h5.0v5.0h-5.0zM189.3 243.9h5.0v5.0h-5.0zM191.4 245.4h5.0v5.0h-5.0zM193.5 247.0h5.0v5.0h-5.0zM195.6 248.7h5.0v5.0h-5.0zM197.8 250.6h5.0v5.0h-5.0zM199.9 252.6h5.0v5.0h-5.0zM202.1 254.7h5.0v5.0h-5.0zM204.4 256.9h5.0v5.0h-5.0zM206.6 258.9h5.0v5.0h-5.0zM208.9 260.9h5.0v5.0h-5.0zM211.1 262.8h5.0v5.0h-5.0zM213.5 264.6h5.0v5.0h-5.0zM215.8 266.5h5.0v5.0h-5.0zM218.1 268.3h5.0v5.0h-5.0zM220.5 270.2h5.0v5.0h-5.0zM222.9 272.0h5.0v5.0h-5.0zM225.4 273.8h5.0v5.0h-5.0zM227.8 275.5h5.0v5.0h-5.0zM230.3 277.2h5.0v5.0h-5.0zM232.8 278.8h5.0v5.0h-5.0zM235.3 280.3h5.0v5.0h-5.0zM237.9 281.7h5.0v5.0h-5.0zM240.4 283.0h5.0v5.0h-5.0zM243.0 284.3h5.0v5.0h-5.0zM245.6 285.5h5.0v5.0h-5.0zM248.2 286.7h5.0v5.0h-5.0zM250.8 287.8h5.0v5.0h-5.0zM253.4 288.9h5.0v5.0h-5.0zM256.0 289.9h5.0v5.0h-5.0zM258.5 290.9h5.0v5.0h-5.0zM261.1 291.8h5.0v5.0h-5.0zM263.7 292.8h5.0v5.0h-5.0zM266.3 293.7h5.0v5.0h-5.0zM268.9 294.5h5.0v5.0h-5.0zM271.5 295.4h5.0v5.0h-5.0zM274.0 296.2h5.0v5.0h-5.0zM276.6 297.0h5.0v5.0h-5.0zM279.2 297.8h5.0v5.0h-5.0zM281.8 298.6h5.0v5.0h-5.0zM284.4 299.3h5.0v5.0h-5.0zM287.0 300.0h5.0v5.0h-5.0zM289.5 300.7h5.0v5.0h-5.0zM292.1 301.3h5.0v5.0h-5.0zM294.7 301.9h5.0v5.0h-5.0zM297.3 302.4h5.0v5.0h-5.0zM299.9 303.0h5.0v5.0h-5.0zM302.5 303.5h5.0v5.0h-5.0zM305.0 304.1h5.0v5.0h-5.0zM307.6 304.6h5.0v5.0h-5.0zM310.2 305.0h5.0v5.0h-5.0zM312.8 305.4h5.0v5.0h-5.0zM315.4 305.7h5.0v5.0h-5.0zM318.0 305.9h5.0v5.0h-5.0zM320.6 306.1h5.0v5.0h-5.0zM323.1 306.3h5.0v5.0h-5.0zM325.7 306.5h5.0v5.0h-5.0zM328.3 306.6h5.0v5.0h-5.0zM330.9 306.8h5.0v5.0h-5.0zM333.5 307.0h5.0v5.0h-5.0zM336.1 307.1h5.0v5.0h-5.0zM338.6 307.3h5.0v5.0h-5.0zM341.2 307.4h5.0v5.0h-5.0zM343.8 307.5h5.0v5.0h-5.0zM346.4 307.7h5.0v5.0h-5.0zM349.0 307.8h5.0v5.0h-5.0zM351.6 307.9h5.0v5.0h-5.0zM354.1 308.0h5.0v5.0h-5.0zM356.7 308.1h5.0v5.0h-5.0zM359.3 308.2h5.0v5.0h-5.0zM361.9 308.3h5.0v5.0h-5.0zM364.5 308.4h5.0v5.0h-5.0zM367.1 308.4h5.0v5.0h-5.0zM369.6 308.5h5.0v5.0h-5.0zM372.2 308.6h5.0v5.0h-5.0zM374.8 308.6h5.0v5.0h-5.0zM377.4 308.7h5.0v5.0h-5.0zM380.0 308.7h5.0v5.0h-5.0zM382.6 308.7h5.0v5.0h-5.0zM385.2 308.8h5.0v5.0h-5.0zM387.7 308.8h5.0v5.0h-5.0zM390.3 308.8h5.0v5.0h-5.0zM392.9 308.9h5.0v5.0h-5.0zM395.5 308.9h5.0v5.0h-5.0zM398.1 308.9h5.0v5.0h-5.0zM400.7 308.9h5.0v5.0h-5.0zM403.2 309.0h5.0v5.0h-5.0zM405.8 309.0h5.0v5.0h-5.0zM408.4 309.0h5.0v5.0h-5.0zM411.0 309.0h5.0v5.0h-5.0zM413.6 309.1h5.0v5.0h-5.0zM416.2 309.1h5.0v5.0h-5.0zM418.7 309.1h5.0v5.0h-5.0zM421.3 309.1h5.0v5.0h-5.0zM423.9 309.1h5.0v5.0h-5.0zM426.5 309.1h5.0v5.0h-5.0zM429.1 309.2h5.0v5.0h-5.0zM431.7 309.2h5.0v5.0h-5.0zM434.2 309.2h5.0v5.0h-5.0zM436.8 309.2h5.0v5.0h-5.0zM439.4 309.2h5.0v5.0h-5.0zM442.0 309.2h5.0v5.0h-5.0zM444.6 309.2h5.0v5.0h-5.0zM447.2 309.2h5.0v5.0h-5.0zM449.8 309.3h5.0v5.0h-5.0zM452.3 309.3h5.0v5.0h-5.0zM454.9 309.3h5.0v5.0h-5.0zM457.5 309.3h5.0v5.0h-5.0zM460.1 309.3h5.0v5.0h-5.0zM462.7 309.3h5.0v5.0h-5.0zM464.6 309.3h5.0v5.0h-5.0z" fill="#fff" stroke="#840606" stroke-width="0.9"/>
<polyline points="147.3,309.7 149.0,305.4 150.6,301.1 152.3,296.8 154.0,292.4 155.7,288.2 157.5,284.1 159.2,280.1 161.0,276.3 162.8,272.6 164.6,268.9 166.4,265.4 168.2,262.1 170.1,258.9 172.0,255.8 173.8,252.9 175.8,250.6 177.7,248.6 179.6,246.9 181.6,246.1 183.6,245.8 185.6,245.6 187.6,245.6 189.7,246.0 191.8,246.6 193.9,247.3 196.0,248.2 198.1,249.4 200.3,251.0 202.4,252.9 204.6,255.0 206.9,257.1 209.1,259.3 211.4,261.4 213.6,263.4 216.0,265.5 218.3,267.6 220.6,269.6 223.0,271.6 225.4,273.5 227.9,275.2 230.3,276.9 232.8,278.5 235.3,280.1 237.8,281.5 240.4,282.9 242.9,284.2 245.5,285.5 248.1,286.7 250.7,287.8 253.3,288.9 255.9,290.0 258.5,291.1 261.0,292.1 263.6,293.0 266.2,294.0 268.8,294.9 271.4,295.7 274.0,296.6 276.5,297.4 279.1,298.2 281.7,298.9 284.3,299.7 286.9,300.4 289.5,301.0 292.0,301.7 294.6,302.3 297.2,302.9 299.8,303.4 302.4,304.0 305.0,304.5 307.5,304.9 310.1,305.4 312.7,305.8 315.3,306.2 317.9,306.6 320.5,307.0 323.1,307.4 325.6,307.8 328.2,308.2 330.8,308.5 333.4,308.9 336.0,309.1 338.6,309.4 341.1,309.5 343.7,309.6 346.3,309.8 348.9,309.9 351.5,310.0 354.1,310.1 356.6,310.2 359.2,310.3 361.8,310.4 364.4,310.5 367.0,310.6 369.6,310.6 372.1,310.7 374.7,310.8 377.3,310.8 379.9,310.9 382.5,310.9 385.1,310.9 387.7,311.0 390.2,311.0 392.8,311.0 395.4,311.1 398.0,311.1 400.6,311.1 403.2,311.1 405.7,311.2 408.3,311.2 410.9,311.2 413.5,311.2 416.1,311.3 418.7,311.3 421.2,311.3 423.8,311.3 426.4,311.4 429.0,311.4 431.6,311.4 434.2,311.4 436.7,311.4 439.3,311.4 441.9,311.5 444.5,311.5 447.1,311.5 449.7,311.5 452.3,311.5 454.8,311.5 457.4,311.5 460.0,311.5 462.6,311.5 465.2,311.5 467.1,311.5" fill="none" stroke="#000" stroke-width="0.8"/>
<path d="M144.8 307.2h5.0v5.0h-5.0zM146.5 302.9h5.0v5.0h-5.0zM148.1 298.6h5.0v5.0h-5.0zM149.8 294.3h5.0v5.0h-5.0zM151.5 289.9h5.0v5.0h-5.0zM153.2 285.7h5.0v5.0h-5.0zM155.0 281.6h5.0v5.0h-5.0zM156.7 277.6h5.0v5.0h-5.0zM158.5 273.8h5.0v5.0h-5.0zM160.3 270.1h5.0v5.0h-5.0zM162.1 266.4h5.0v5.0h-5.0zM163.9 262.9h5.0v5.0h-5.0zM165.7 259.6h5.0v5.0h-5.0zM167.6 256.4h5.0v5.0h-5.0zM169.5 253.3h5.0v5.0h-5.0zM171.3 250.4h5.0v5.0h-5.0zM173.3 248.1h5.0v5.0h-5.0zM175.2 246.1h5.0v5.0h-5.0zM177.1 244.4h5.0v5.0h-5.0zM179.1 243.6h5.0v5.0h-5.0zM181.1 243.3h5.0v5.0h-5.0zM183.1 243.1h5.0v5.0h-5.0zM185.1 243.1h5.0v5.0h-5.0zM187.2 243.5h5.0v5.0h-5.0zM189.3 244.1h5.0v5.0h-5.0zM191.4 244.8h5.0v5.0h-5.0zM193.5 245.7h5.0v5.0h-5.0zM195.6 246.9h5.0v5.0h-5.0zM197.8 248.5h5.0v5.0h-5.0zM199.9 250.4h5.0v5.0h-5.0zM202.1 252.5h5.0v5.0h-5.0zM204.4 254.6h5.0v5.0h-5.0zM206.6 256.8h5.0v5.0h-5.0zM208.9 258.9h5.0v5.0h-5.0zM211.1 260.9h5.0v5.0h-5.0zM213.5 263.0h5.0v5.0h-5.0zM215.8 265.1h5.0v5.0h-5.0zM218.1 267.1h5.0v5.0h-5.0zM220.5 269.1h5.0v5.0h-5.0zM222.9 271.0h5.0v5.0h-5.0zM225.4 272.7h5.0v5.0h-5.0zM227.8 274.4h5.0v5.0h-5.0zM230.3 276.0h5.0v5.0h-5.0zM232.8 277.6h5.0v5.0h-5.0zM235.3 279.0h5.0v5.0h-5.0zM237.9 280.4h5.0v5.0h-5.0zM240.4 281.7h5.0v5.0h-5.0zM243.0 283.0h5.0v5.0h-5.0zM245.6 284.2h5.0v5.0h-5.0zM248.2 285.3h5.0v5.0h-5.0zM250.8 286.4h5.0v5.0h-5.0zM253.4 287.5h5.0v5.0h-5.0zM256.0 288.6h5.0v5.0h-5.0zM258.5 289.6h5.0v5.0h-5.0zM261.1 290.5h5.0v5.0h-5.0zM263.7 291.5h5.0v5.0h-5.0zM266.3 292.4h5.0v5.0h-5.0zM268.9 293.2h5.0v5.0h-5.0zM271.5 294.1h5.0v5.0h-5.0zM274.0 294.9h5.0v5.0h-5.0zM276.6 295.7h5.0v5.0h-5.0zM279.2 296.4h5.0v5.0h-5.0zM281.8 297.2h5.0v5.0h-5.0zM284.4 297.9h5.0v5.0h-5.0zM287.0 298.5h5.0v5.0h-5.0zM289.5 299.2h5.0v5.0h-5.0zM292.1 299.8h5.0v5.0h-5.0zM294.7 300.4h5.0v5.0h-5.0zM297.3 300.9h5.0v5.0h-5.0zM299.9 301.5h5.0v5.0h-5.0zM302.5 302.0h5.0v5.0h-5.0zM305.0 302.4h5.0v5.0h-5.0zM307.6 302.9h5.0v5.0h-5.0zM310.2 303.3h5.0v5.0h-5.0zM312.8 303.7h5.0v5.0h-5.0zM315.4 304.1h5.0v5.0h-5.0zM318.0 304.5h5.0v5.0h-5.0zM320.6 304.9h5.0v5.0h-5.0zM323.1 305.3h5.0v5.0h-5.0zM325.7 305.7h5.0v5.0h-5.0zM328.3 306.0h5.0v5.0h-5.0zM330.9 306.4h5.0v5.0h-5.0zM333.5 306.6h5.0v5.0h-5.0zM336.1 306.9h5.0v5.0h-5.0zM338.6 307.0h5.0v5.0h-5.0zM341.2 307.1h5.0v5.0h-5.0zM343.8 307.3h5.0v5.0h-5.0zM346.4 307.4h5.0v5.0h-5.0zM349.0 307.5h5.0v5.0h-5.0zM351.6 307.6h5.0v5.0h-5.0zM354.1 307.7h5.0v5.0h-5.0zM356.7 307.8h5.0v5.0h-5.0zM359.3 307.9h5.0v5.0h-5.0zM361.9 308.0h5.0v5.0h-5.0zM364.5 308.1h5.0v5.0h-5.0zM367.1 308.1h5.0v5.0h-5.0zM369.6 308.2h5.0v5.0h-5.0zM372.2 308.3h5.0v5.0h-5.0zM374.8 308.3h5.0v5.0h-5.0zM377.4 308.4h5.0v5.0h-5.0zM380.0 308.4h5.0v5.0h-5.0zM382.6 308.4h5.0v5.0h-5.0zM385.2 308.5h5.0v5.0h-5.0zM387.7 308.5h5.0v5.0h-5.0zM390.3 308.5h5.0v5.0h-5.0zM392.9 308.6h5.0v5.0h-5.0zM395.5 308.6h5.0v5.0h-5.0zM398.1 308.6h5.0v5.0h-5.0zM400.7 308.6h5.0v5.0h-5.0zM403.2 308.7h5.0v5.0h-5.0zM405.8 308.7h5.0v5.0h-5.0zM408.4 308.7h5.0v5.0h-5.0zM411.0 308.7h5.0v5.0h-5.0zM413.6 308.8h5.0v5.0h-5.0zM416.2 308.8h5.0v5.0h-5.0zM418.7 308.8h5.0v5.0h-5.0zM421.3 308.8h5.0v5.0h-5.0zM423.9 308.9h5.0v5.0h-5.0zM426.5 308.9h5.0v5.0h-5.0zM429.1 308.9h5.0v5.0h-5.0zM431.7 308.9h5.0v5.0h-5.0zM434.2 308.9h5.0v5.0h-5.0zM436.8 308.9h5.0v5.0h-5.0zM439.4 309.0h5.0v5.0h-5.0zM442.0 309.0h5.0v5.0h-5.0zM444.6 309.0h5.0v5.0h-5.0zM447.2 309.0h5.0v5.0h-5.0zM449.8 309.0h5.0v5.0h-5.0zM452.3 309.0h5.0v5.0h-5.0zM454.9 309.0h5.0v5.0h-5.0zM457.5 309.0h5.0v5.0h-5.0zM460.1 309.0h5.0v5.0h-5.0zM462.7 309.0h5.0v5.0h-5.0zM464.6 309.0h5.0v5.0h-5.0z" fill="#fff" stroke="#860686" stroke-width="0.9"/>
</g>
<path d="M98 10.4H508M98.5 312.8H508M144.1 312.8v6M144.1 10.4v4M184.5 312.8v4M184.5 10.4v3M224.8 312.8v6M224.8 10.4v4M265.2 312.8v4M265.2 10.4v3M305.6 312.8v6M305.6 10.4v4M346.0 312.8v4M346.0 10.4v3M386.4 312.8v6M386.4 10.4v4M426.7 312.8v4M426.7 10.4v3M467.1 312.8v6M467.1 10.4v4M98.5 312.9H104.8M101.3 291.3H104.8M98.5 269.7H104.8M101.3 248.1H104.8M98.5 226.5H104.8M101.3 204.9H104.8M98.5 183.3H104.8M101.3 161.7H104.8M98.5 140.1H104.8M101.3 118.5H104.8M98.5 96.9H104.8M101.3 75.3H104.8M98.5 53.7H104.8M101.3 32.1H104.8M507 312.3H512.6M507 246.9H512.6M507 181.4H512.6M507 115.9H512.6M507 50.5H512.6M507 279.6H510.6M507 214.1H510.6M507 148.7H510.6M507 83.2H510.6M507 17.8H510.6" stroke="#000" stroke-width="1.6" fill="none"/>
<text x="96" y="315.1" font-size="15.5" text-anchor="end" fill="#111" stroke="#111" stroke-width="0.35">0,0</text>
<text x="87.5" y="275.7" font-size="15.5" text-anchor="end" fill="#111" stroke="#111" stroke-width="0.35">1,0x10</text>
<text x="86.8" y="267.9" font-size="8" fill="#111">-2</text>
<text x="87.5" y="232.5" font-size="15.5" text-anchor="end" fill="#111" stroke="#111" stroke-width="0.35">2,0x10</text>
<text x="86.8" y="224.7" font-size="8" fill="#111">-2</text>
<text x="87.5" y="189.3" font-size="15.5" text-anchor="end" fill="#111" stroke="#111" stroke-width="0.35">3,0x10</text>
<text x="86.8" y="181.5" font-size="8" fill="#111">-2</text>
<text x="87.5" y="146.1" font-size="15.5" text-anchor="end" fill="#111" stroke="#111" stroke-width="0.35">4,0x10</text>
<text x="86.8" y="138.3" font-size="8" fill="#111">-2</text>
<text x="87.5" y="102.9" font-size="15.5" text-anchor="end" fill="#111" stroke="#111" stroke-width="0.35">5,0x10</text>
<text x="86.8" y="95.1" font-size="8" fill="#111">-2</text>
<text x="87.5" y="59.7" font-size="15.5" text-anchor="end" fill="#111" stroke="#111" stroke-width="0.35">6,0x10</text>
<text x="86.8" y="51.9" font-size="8" fill="#111">-2</text>
<text x="87.5" y="16.5" font-size="15.5" text-anchor="end" fill="#111" stroke="#111" stroke-width="0.35">7,0x10</text>
<text x="86.8" y="8.7" font-size="8" fill="#111">-2</text>
<text x="515" y="317.8" font-size="15.5" font-weight="bold" fill="#111">0,0</text>
<text x="515" y="252.4" font-size="15.5" font-weight="bold" fill="#111">5,0x10</text>
<text x="561" y="243.7" font-size="7.5" font-weight="bold" fill="#111">-3</text>
<text x="515" y="186.9" font-size="15.5" font-weight="bold" fill="#111">1,0x10</text>
<text x="561" y="178.2" font-size="7.5" font-weight="bold" fill="#111">-2</text>
<text x="515" y="121.4" font-size="15.5" font-weight="bold" fill="#111">1,5x10</text>
<text x="561" y="112.7" font-size="7.5" font-weight="bold" fill="#111">-2</text>
<text x="515" y="56.0" font-size="15.5" font-weight="bold" fill="#111">2,0x10</text>
<text x="561" y="47.3" font-size="7.5" font-weight="bold" fill="#111">-2</text>
<text x="144.1" y="333.3" font-size="14.5" text-anchor="middle" fill="#111" stroke="#111" stroke-width="0.35">0</text>
<text x="224.8" y="333.3" font-size="14.5" text-anchor="middle" fill="#111" stroke="#111" stroke-width="0.35">50</text>
<text x="305.6" y="333.3" font-size="14.5" text-anchor="middle" fill="#111" stroke="#111" stroke-width="0.35">100</text>
<text x="386.4" y="333.3" font-size="14.5" text-anchor="middle" fill="#111" stroke="#111" stroke-width="0.35">150</text>
<text x="467.1" y="333.3" font-size="14.5" text-anchor="middle" fill="#111" stroke="#111" stroke-width="0.35">200</text>
<text x="229.9" y="364" font-size="20.5" letter-spacing="0.4" fill="#111" stroke="#111" stroke-width="0.35">Temperature / <tspan font-style="italic">K</tspan></text>
<text x="37.5" y="345.5" font-size="25" font-weight="bold" fill="#111" stroke="#111" stroke-width="0.5">a)</text>
<g transform="translate(24.5,231.8) rotate(-90)" font-size="21" fill="#111" stroke="#111" stroke-width="0.4"><text x="0" y="0" font-size="17" font-style="italic">χ</text><text x="12" y="0">´</text><text x="25" y="0">/</text><text x="40.5" y="0" font-style="italic">emu·</text><text x="93" y="0" font-style="italic" font-size="21">g</text><text x="105" y="-7.5" font-size="21" font-style="italic">-1</text></g>
<g transform="translate(574,108.7) rotate(90)" font-size="21" fill="#111" stroke="#111" stroke-width="0.4"><text x="0" y="0" font-size="16" font-style="italic">χ</text><text x="10.5" y="-1.5" font-weight="bold">"</text><text x="29" y="0">/</text><text x="43.5" y="0" font-style="italic">emu·</text><text x="93.5" y="0" font-style="italic">g</text><text x="105" y="-6.5" font-size="19">-</text><text x="115" y="-8" font-size="12">1</text></g>
<text x="106.8" y="32.7" font-size="21.5" fill="#111" stroke="#111" stroke-width="0.75" letter-spacing="0.1">T<tspan font-size="17.5" dy="4.6">b</tspan><tspan dy="-4.6">=32 K</tspan></text>
<text x="189.6" y="162.3" font-size="21.5" fill="#111" stroke="#111" stroke-width="0.75" letter-spacing="0.1">T<tspan font-size="17.5" dy="4.6">b</tspan><tspan dy="-4.6">=43 K</tspan></text>
<path d="M130 73.5H164" stroke="#000" stroke-width="2.6" stroke-linecap="round"/><path d="M120.2 73.5L131.8 69.2V77.8Z" fill="#000" stroke="#000" stroke-width="0.8" stroke-linejoin="round"/>
<path d="M227 255.1H305" stroke="#000" stroke-width="2.7" stroke-linecap="round"/><path d="M316 255.1L303.8 251.2V259Z" fill="#000" stroke="#000" stroke-width="0.8" stroke-linejoin="round"/>
<path d="M391.5 33.7H401.2M410 33.7H419.8" stroke="#000" stroke-width="1.4"/>
<rect x="403.3" y="31.1" width="5.3" height="5.3" fill="#0404a6"/>
<text x="425.8" y="38.2" font-size="19.5" letter-spacing="0.25" fill="#111" stroke="#111" stroke-width="0.45">1 Hz</text>
<rect x="403.3" y="56.3" width="5.3" height="5.3" fill="#078383"/>
<text x="419.8" y="64.4" font-size="19.5" letter-spacing="0.25" fill="#111" stroke="#111" stroke-width="0.45">10Hz</text>
<rect x="403.3" y="81.4" width="5.3" height="5.3" fill="#078507"/>
<text x="420.0" y="88.6" font-size="19.5" letter-spacing="0.25" fill="#111" stroke="#111" stroke-width="0.45">110 Hz</text>
<path d="M391.5 109.3H401.2M410 109.3H419.8" stroke="#000" stroke-width="1.4"/>
<rect x="403.3" y="106.6" width="5.3" height="5.3" fill="#840606"/>
<text x="419.0" y="114.0" font-size="19.5" letter-spacing="0.25" fill="#111" stroke="#111" stroke-width="0.45">332 Hz</text>
<path d="M391.5 134.5H401.2M410 134.5H419.8" stroke="#000" stroke-width="1.4"/>
<rect x="403.3" y="131.8" width="5.3" height="5.3" fill="#860686"/>
<text x="419.0" y="139.2" font-size="19.5" letter-spacing="0.25" fill="#111" stroke="#111" stroke-width="0.45">998 Hz</text>
<path d="M672.5 42.3H1004.7V286.8H672.5ZM672.5 286.8v5M672.5 42.3v4M705.7 286.8v3.5M705.7 42.3v3M772.2 286.8v3.5M772.2 42.3v3M805.4 286.8v5M805.4 42.3v4M838.6 286.8v3.5M838.6 42.3v3M871.8 286.8v5M871.8 42.3v4M905.0 286.8v3.5M905.0 42.3v3M938.3 286.8v5M938.3 42.3v4M971.5 286.8v3.5M971.5 42.3v3M1004.7 286.8v5M1004.7 42.3v4M669.5 51.8H672.5M1004.7 51.8h-3M667 66.5H672.5M1004.7 66.5h-5M669.5 81.2H672.5M1004.7 81.2h-3M667 95.8H672.5M1004.7 95.8h-5M669.5 110.5H672.5M1004.7 110.5h-3M667 125.1H672.5M1004.7 125.1h-5M669.5 139.8H672.5M1004.7 139.8h-3M667 154.4H672.5M1004.7 154.4h-5M669.5 169.1H672.5M1004.7 169.1h-3M667 183.8H672.5M1004.7 183.8h-5M669.5 198.4H672.5M1004.7 198.4h-3M667 213.1H672.5M1004.7 213.1h-5M669.5 227.7H672.5M1004.7 227.7h-3M667 242.4H672.5M1004.7 242.4h-5M669.5 257.0H672.5M1004.7 257.0h-3M667 271.7H672.5M1004.7 271.7h-5" stroke="#000" stroke-width="1.6" fill="none"/>
<text x="672.5" y="306" font-size="14.8" text-anchor="middle" fill="#111" stroke="#111" stroke-width="0.3">0,022</text>
<text x="738.9" y="306" font-size="14.8" text-anchor="middle" fill="#111" stroke="#111" stroke-width="0.3">0,024</text>
<text x="805.4" y="306" font-size="14.8" text-anchor="middle" fill="#111" stroke="#111" stroke-width="0.3">0,026</text>
<text x="871.8" y="306" font-size="14.8" text-anchor="middle" fill="#111" stroke="#111" stroke-width="0.3">0,028</text>
<text x="938.3" y="306" font-size="14.8" text-anchor="middle" fill="#111" stroke="#111" stroke-width="0.3">0,030</text>
<text x="1004.7" y="306" font-size="14.8" text-anchor="middle" fill="#111" stroke="#111" stroke-width="0.3">0,032</text>
<text x="665" y="71.7" font-size="14.5" font-weight="bold" text-anchor="end" fill="#111">-2</text>
<text x="665" y="101.0" font-size="14.5" font-weight="bold" text-anchor="end" fill="#111">-3</text>
<text x="665" y="130.3" font-size="14.5" font-weight="bold" text-anchor="end" fill="#111">-4</text>
<text x="665" y="159.6" font-size="14.5" font-weight="bold" text-anchor="end" fill="#111">-5</text>
<text x="665" y="189.0" font-size="14.5" font-weight="bold" text-anchor="end" fill="#111">-6</text>
<text x="665" y="218.3" font-size="14.5" font-weight="bold" text-anchor="end" fill="#111">-7</text>
<text x="665" y="247.6" font-size="14.5" font-weight="bold" text-anchor="end" fill="#111">-8</text>
<text x="665" y="276.9" font-size="14.5" font-weight="bold" text-anchor="end" fill="#111">-9</text>
<path d="M712.3 260.8L979.7 53.9" stroke="#e01010" stroke-width="1.6"/>
<rect x="711.8" y="261.8" width="5.5" height="5.5" fill="#000"/>
<rect x="748.6" y="229.2" width="5.5" height="5.5" fill="#000"/>
<rect x="790.5" y="196.8" width="5.5" height="5.5" fill="#000"/>
<rect x="859.0" y="126.7" width="5.5" height="5.5" fill="#000"/>
<rect x="977.0" y="59.0" width="5.5" height="5.5" fill="#000"/>
<text x="798.3" y="338.7" font-size="22" fill="#111" stroke="#111" stroke-width="0.45">1/T</text>
<text x="613.2" y="327.4" font-size="25" font-weight="bold" fill="#111" stroke="#111" stroke-width="0.5">b)</text>
<g transform="translate(626.1,184.5) rotate(-90)" font-size="20" font-weight="bold" fill="#111"><text x="-1.2" y="0">l</text><text x="3.4" y="0">n</text><text x="22.5" y="0" font-size="17">τ</text></g>
</svg></body></html>
